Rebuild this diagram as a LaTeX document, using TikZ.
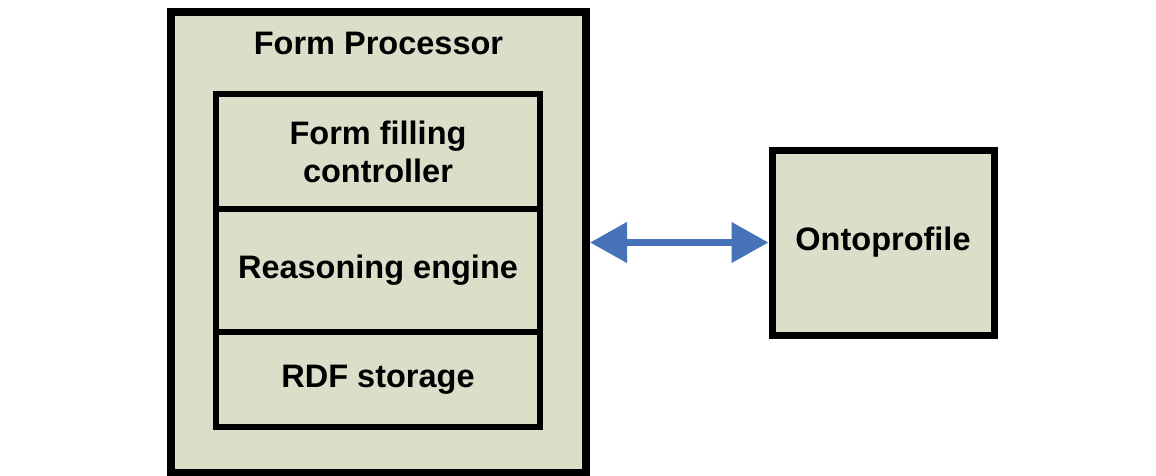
\documentclass[tikz,border=0pt]{standalone}
\usepackage{fontspec}
\setmainfont{Liberation Sans}
\usetikzlibrary{arrows.meta}
\definecolor{boxfill}{HTML}{DBDEC8}
\definecolor{linkblue}{HTML}{4673B8}
\begin{document}
\begin{tikzpicture}[x=1pt,y=-1pt,
  lbl/.style={font=\bfseries\fontsize{32.5}{38}\selectfont, align=center},
  blk/.style={lbl, draw=black, fill=boxfill, rectangle, inner sep=0pt},
  thick box/.style={blk, line width=8pt},
  part/.style={blk, line width=6.5pt, minimum width=324pt},
  link/.style={draw=linkblue, line width=7.5pt,
    {Triangle[length=37pt,width=39pt]}-{Triangle[length=37pt,width=39pt]}}]
\useasboundingbox (0,0) rectangle (1156,476);

% outer container
\node[thick box, minimum width=415pt, minimum height=461pt] (proc) at (378.5,242.5) {};
\node[lbl] (title) at (378.5,43) {Form Processor};

% stacked components
\node[part, minimum height=115pt] (ctrl) at (378,151.5) {Form filling\\controller};
\node[part, minimum height=123pt] (reason) at (378,270.5) {Reasoning engine};
\node[part, minimum height=95pt] (rdf) at (378,379.5) {RDF storage};

% external profile store
\node[blk, line width=7pt, minimum width=222pt, minimum height=185pt] (onto) at (883,242.5) {Ontoprofile};

\draw[link] (proc.east) -- (onto.west);
\end{tikzpicture}
\end{document}
